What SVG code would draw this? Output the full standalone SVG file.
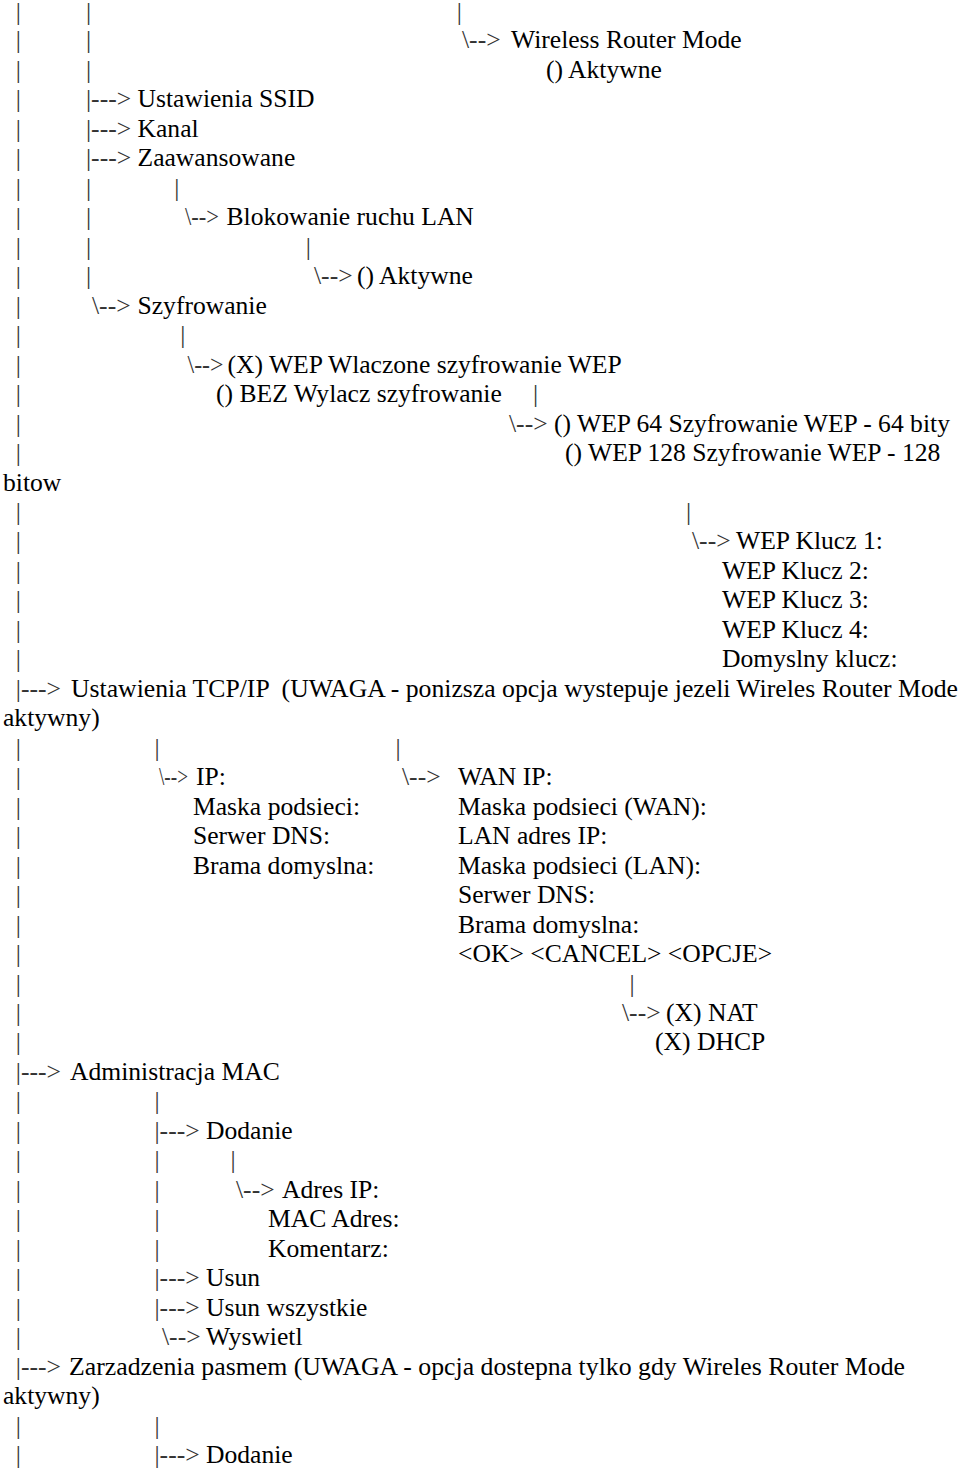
<svg xmlns="http://www.w3.org/2000/svg" width="960" height="1473" viewBox="0 0 960 1473">
<style>
text{font-family:"Liberation Serif","Times New Roman",serif;font-size:25.6px;fill:#000;white-space:pre}
.c{fill:#333}
</style>
<rect width="960" height="1473" fill="#fff"/>
<g id="connectors">
<text class="c" x="15.8" y="19.5">|</text>
<text class="c" x="15.8" y="48.47">|</text>
<text class="c" x="15.8" y="77.94">|</text>
<text class="c" x="15.8" y="107.41">|</text>
<text class="c" x="15.8" y="136.88">|</text>
<text class="c" x="15.8" y="166.35">|</text>
<text class="c" x="15.8" y="195.82">|</text>
<text class="c" x="15.8" y="225.29">|</text>
<text class="c" x="15.8" y="254.76">|</text>
<text class="c" x="15.8" y="284.23">|</text>
<text class="c" x="15.8" y="313.7">|</text>
<text class="c" x="15.8" y="343.17">|</text>
<text class="c" x="15.8" y="372.64">|</text>
<text class="c" x="15.8" y="402.11">|</text>
<text class="c" x="15.8" y="431.58">|</text>
<text class="c" x="15.8" y="461.05">|</text>
<text class="c" x="15.8" y="519.99">|</text>
<text class="c" x="15.8" y="549.46">|</text>
<text class="c" x="15.8" y="578.93">|</text>
<text class="c" x="15.8" y="608.4">|</text>
<text class="c" x="15.8" y="637.87">|</text>
<text class="c" x="15.8" y="667.34">|</text>
<text class="c" x="15.8" y="696.81">|---&gt;</text>
<text class="c" x="15.8" y="755.75">|</text>
<text class="c" x="15.8" y="785.22">|</text>
<text class="c" x="15.8" y="814.69">|</text>
<text class="c" x="15.8" y="844.16">|</text>
<text class="c" x="15.8" y="873.63">|</text>
<text class="c" x="15.8" y="903.1">|</text>
<text class="c" x="15.8" y="932.57">|</text>
<text class="c" x="15.8" y="962.04">|</text>
<text class="c" x="15.8" y="991.51">|</text>
<text class="c" x="15.8" y="1020.98">|</text>
<text class="c" x="15.8" y="1050.45">|</text>
<text class="c" x="15.8" y="1079.92">|---&gt;</text>
<text class="c" x="15.8" y="1109.39">|</text>
<text class="c" x="15.8" y="1138.86">|</text>
<text class="c" x="15.8" y="1168.33">|</text>
<text class="c" x="15.8" y="1197.8">|</text>
<text class="c" x="15.8" y="1227.27">|</text>
<text class="c" x="15.8" y="1256.74">|</text>
<text class="c" x="15.8" y="1286.21">|</text>
<text class="c" x="15.8" y="1315.68">|</text>
<text class="c" x="15.8" y="1345.15">|</text>
<text class="c" x="15.8" y="1374.62">|---&gt;</text>
<text class="c" x="15.8" y="1433.56">|</text>
<text class="c" x="15.8" y="1463.03">|</text>
<text class="c" x="86" y="19.5">|</text>
<text class="c" x="86" y="48.47">|</text>
<text class="c" x="86" y="77.94">|</text>
<text class="c" x="86" y="107.41">|---&gt;</text>
<text class="c" x="86" y="136.88">|---&gt;</text>
<text class="c" x="86" y="166.35">|---&gt;</text>
<text class="c" x="86" y="195.82">|</text>
<text class="c" x="86" y="225.29">|</text>
<text class="c" x="86" y="254.76">|</text>
<text class="c" x="86" y="284.23">|</text>
<text class="c" x="92" y="313.7">\--&gt;</text>
<text class="c" x="456.8" y="19.5">|</text>
<text class="c" x="462" y="48.47">\--&gt;</text>
<text class="c" x="174.2" y="195.82">|</text>
<text class="c" x="185" y="225.29" textLength="34" lengthAdjust="spacingAndGlyphs">\--&gt;</text>
<text class="c" x="305.8" y="254.76">|</text>
<text class="c" x="314" y="284.23">\--&gt;</text>
<text class="c" x="180.2" y="343.17">|</text>
<text class="c" x="187.5" y="372.64" textLength="36" lengthAdjust="spacingAndGlyphs">\--&gt;</text>
<text class="c" x="533" y="402.11">|</text>
<text class="c" x="509" y="431.58">\--&gt;</text>
<text class="c" x="686" y="519.99">|</text>
<text class="c" x="692" y="549.46">\--&gt;</text>
<text class="c" x="154.5" y="755.75">|</text>
<text class="c" x="159" y="785.22" textLength="29" lengthAdjust="spacingAndGlyphs">\--&gt;</text>
<text class="c" x="395.5" y="755.75">|</text>
<text class="c" x="402" y="785.22">\--&gt;</text>
<text class="c" x="629.5" y="991.51">|</text>
<text class="c" x="622" y="1020.98">\--&gt;</text>
<text class="c" x="154.5" y="1109.39">|</text>
<text class="c" x="154.5" y="1138.86">|---&gt;</text>
<text class="c" x="154.5" y="1168.33">|</text>
<text class="c" x="230.5" y="1168.33">|</text>
<text class="c" x="154.5" y="1197.8">|</text>
<text class="c" x="236" y="1197.8">\--&gt;</text>
<text class="c" x="154.5" y="1227.27">|</text>
<text class="c" x="154.5" y="1256.74">|</text>
<text class="c" x="154.5" y="1286.21">|---&gt;</text>
<text class="c" x="154.5" y="1315.68">|---&gt;</text>
<text class="c" x="162" y="1345.15">\--&gt;</text>
<text class="c" x="154.5" y="1433.56">|</text>
<text class="c" x="154.5" y="1463.03">|---&gt;</text>
</g>
<g id="wireless-router-mode"><text x="511" y="48.47">Wireless Router Mode</text><text x="546" y="77.94">() Aktywne</text></g>
<g id="ustawienia-ssid"><text x="137.5" y="107.41">Ustawienia SSID</text></g>
<g id="kanal"><text x="137.5" y="136.88">Kanal</text></g>
<g id="zaawansowane"><text x="137.5" y="166.35">Zaawansowane</text></g>
<g id="blokowanie"><text x="226.5" y="225.29">Blokowanie ruchu LAN</text></g>
<g id="blokowanie-aktywne"><text x="357" y="284.23">() Aktywne</text></g>
<g id="szyfrowanie"><text x="137.5" y="313.7">Szyfrowanie</text></g>
<g id="wep-wybor"><text x="227.5" y="372.64">(X) WEP Wlaczone szyfrowanie WEP</text><text x="216" y="402.11">() BEZ Wylacz szyfrowanie</text></g>
<g id="wep-bity"><text x="554" y="431.58">() WEP 64 Szyfrowanie WEP - 64 bity</text><text x="565" y="461.05">() WEP 128 Szyfrowanie WEP - 128</text><text x="3" y="490.52">bitow</text></g>
<g id="wep-klucze"><text x="736" y="549.46">WEP Klucz 1:</text><text x="722" y="578.93">WEP Klucz 2:</text><text x="722" y="608.4">WEP Klucz 3:</text><text x="722" y="637.87">WEP Klucz 4:</text><text x="722" y="667.34">Domyslny klucz:</text></g>
<g id="tcpip"><text x="71" y="696.81" textLength="887" lengthAdjust="spacingAndGlyphs">Ustawienia TCP/IP  (UWAGA - ponizsza opcja wystepuje jezeli Wireles Router Mode</text><text x="3" y="726.28">aktywny)</text></g>
<g id="ip-lan"><text x="196" y="785.22">IP:</text><text x="193" y="814.69">Maska podsieci:</text><text x="193" y="844.16">Serwer DNS:</text><text x="193" y="873.63">Brama domyslna:</text></g>
<g id="ip-wan"><text x="458" y="785.22">WAN IP:</text><text x="458" y="814.69">Maska podsieci (WAN):</text><text x="458" y="844.16">LAN adres IP:</text><text x="458" y="873.63">Maska podsieci (LAN):</text><text x="458" y="903.1">Serwer DNS:</text><text x="458" y="932.57">Brama domyslna:</text><text x="458" y="962.04">&lt;OK&gt; &lt;CANCEL&gt; &lt;OPCJE&gt;</text></g>
<g id="opcje"><text x="666" y="1020.98">(X) NAT</text><text x="655" y="1050.45">(X) DHCP</text></g>
<g id="administracja-mac"><text x="70" y="1079.92">Administracja MAC</text></g>
<g id="mac-dodanie"><text x="206" y="1138.86">Dodanie</text></g>
<g id="mac-pola"><text x="282" y="1197.8">Adres IP:</text><text x="268" y="1227.27">MAC Adres:</text><text x="268" y="1256.74">Komentarz:</text></g>
<g id="usun"><text x="206" y="1286.21">Usun</text></g>
<g id="usun-wszystkie"><text x="206" y="1315.68">Usun wszystkie</text></g>
<g id="wyswietl"><text x="206" y="1345.15">Wyswietl</text></g>
<g id="zarzadzenia-pasmem"><text x="69" y="1374.62" textLength="836" lengthAdjust="spacingAndGlyphs">Zarzadzenia pasmem (UWAGA - opcja dostepna tylko gdy Wireles Router Mode</text><text x="3" y="1404.09">aktywny)</text></g>
<g id="pasmo-dodanie"><text x="206" y="1463.03">Dodanie</text></g>
</svg>
